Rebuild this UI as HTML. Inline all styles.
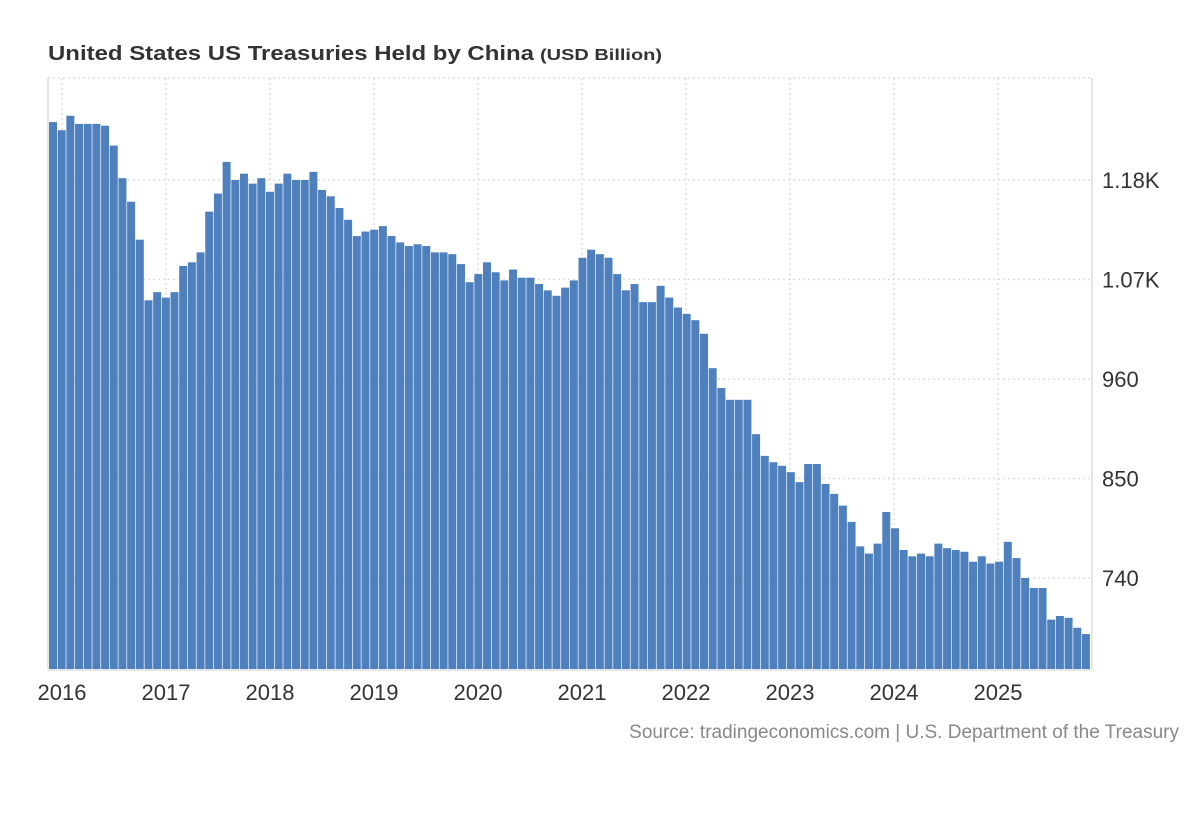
<!DOCTYPE html>
<html><head><meta charset="utf-8"><style>
body{margin:0;background:#fff;}
svg text{font-family:"Liberation Sans",Arial,sans-serif;}
</style></head><body>
<svg id="chart" width="1200" height="820" viewBox="0 0 1200 820" xmlns="http://www.w3.org/2000/svg">
<rect width="1200" height="820" fill="#fff"/>
<text x="48" y="60" font-size="20" font-weight="bold" fill="#333" textLength="486" lengthAdjust="spacingAndGlyphs">United States US Treasuries Held by China</text>
<text x="540" y="60" font-size="16" font-weight="bold" fill="#333" textLength="122" lengthAdjust="spacingAndGlyphs">(USD Billion)</text>
<g id="grid"></g>
<g id="bars"></g>
<g id="axes"></g>
<text x="1179" y="738" font-size="19" fill="#888" text-anchor="end">Source: tradingeconomics.com | U.S. Department of the Treasury</text>
</svg>
<script>
const years = ["2016","2017","2018","2019","2020","2021","2022","2023","2024","2025"];
const yTicks = [740, 850, 960, 1070, 1180];
const yTickLabels = ["740","850","960","1.07K","1.18K"];
const values = [1244,1235,1251,1242,1242,1242,1240,1218,1182,1156,1114,1047,1056,1050,1056,1085,1089,1100,1145,1165,1200,1180,1187,1176,1182,1167,1176,1187,1180,1180,1189,1169,1162,1149,1136,1118,1123,1125,1129,1118,
1111,1107,1109,1107,1100,1100,1098,1087,1067,1076,1089,1078,1069,1081,1072,1072,1065,1058,1052,1061,1069,1094,1103,1098,1094,1076,1058,1065,1045,1045,1063,1050,1039,1032,1025,1010,972,950,937,937,
937,899,875,868,864,857,846,866,866,844,833,820,802,775,767,778,813,795,771,764,767,764,778,773,771,769,758,764,756,758,780,762,740,729,729,694,698,696,685,678];

const NS="http://www.w3.org/2000/svg";
const plotTop=78, plotBottom=669, plotLeft=48, plotRight=1092;
function yScale(v){return 578-(v-740)/1.1055;}
function xBar(i){return 49+i*8.68;}
function xYear(k){return 62+k*104;}
function mk(tag,attrs,parent){const e=document.createElementNS(NS,tag);for(const k in attrs)e.setAttribute(k,attrs[k]);parent.appendChild(e);return e;}
const grid=document.getElementById('grid'), bars=document.getElementById('bars'), axes=document.getElementById('axes');
const hg=[...yTicks,1290];
hg.forEach(v=>{
  const y=v===1290?plotTop:yScale(v);
  const l=mk('line',{x1:plotLeft,x2:plotRight,y1:y,y2:y,stroke:'#ddd','stroke-width':1.5,'stroke-dasharray':'2,3'},grid);
  
  
});
years.forEach((yr,k)=>{
  const x=xYear(k);
  const l=mk('line',{x1:x,x2:x,y1:plotTop,y2:plotBottom,stroke:'#ddd','stroke-width':1.5,'stroke-dasharray':'2,3'},grid);
  
  
  const t=mk('text',{x:x,y:700,'font-size':22,fill:'#333','text-anchor':'middle'},axes);
  t.textContent=yr;
  
  
});
values.forEach((v,i)=>{
  const y=yScale(v);
  const r=mk('rect',{x:xBar(i),y:y,width:8,height:plotBottom-y,fill:'#4e80be'},bars);
  
  
});
yTicks.forEach((v,i)=>{
  const t=mk('text',{x:1102,y:yScale(v)+8,'font-size':22,fill:'#333'},axes);
  t.textContent=yTickLabels[i];
  
  
});
const la=mk('line',{x1:plotLeft,x2:plotLeft,y1:plotTop,y2:plotBottom,stroke:'#e6e6e6','stroke-width':2},axes);


const ra=mk('line',{x1:plotRight,x2:plotRight,y1:plotTop,y2:plotBottom,stroke:'#e6e6e6','stroke-width':2},axes);


const ba=mk('line',{x1:plotLeft,x2:plotRight,y1:plotBottom+1,y2:plotBottom+1,stroke:'#e6e6e6','stroke-width':2},axes);


</script>
</body></html>
